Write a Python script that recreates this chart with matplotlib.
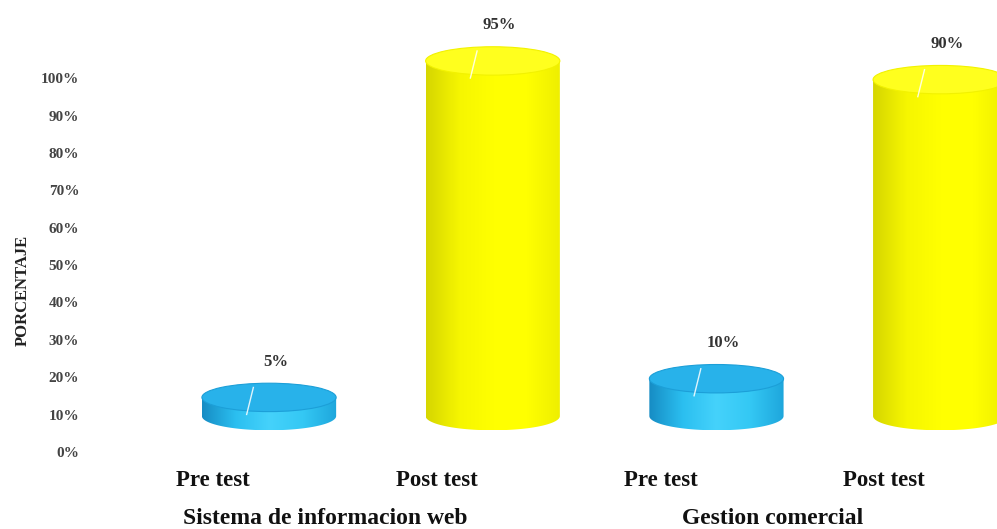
import numpy as np
import matplotlib.pyplot as plt
from matplotlib.patches import Ellipse, Polygon
from matplotlib.colors import LinearSegmentedColormap

# data
groups = ['Sistema de informacion web', 'Gestion comercial']
phases = ['Pre test', 'Post test', 'Pre test', 'Post test']
values = [5, 95, 10, 90]
yticks = list(range(0, 101, 10))

plt.rcParams['font.family'] = ['Liberation Serif', 'DejaVu Serif']
plt.rcParams['font.weight'] = 'bold'

fig = plt.figure(figsize=(9.97, 5.29), dpi=100)
ax = fig.add_axes([0, 0, 1, 1])

floor = 9.6    # 3d floor offset of the cylinders
width = 0.6    # cylinder width in category units
cap = 7.6      # ellipse height in data units

styles = {
    'Pre test': {'body': ['#168cc4', '#2bbff0', '#45d2fb', '#34c8f4', '#1ea6dc'],
                 'top': '#28b2ea', 'edge': '#1c9fd8'},
    'Post test': {'body': ['#d6d600', '#f6f600', '#ffff00', '#ffff00', '#eeee00'],
                  'top': '#ffff1e', 'edge': '#f2f200'},
}

for i, (ph, v) in enumerate(zip(phases, values)):
    st = styles[ph]
    base = floor
    top = floor + v
    left, right = i - width / 2, i + width / 2
    t = np.linspace(np.pi, 2 * np.pi, 60)
    xs = np.concatenate([[left], i + width / 2 * np.cos(t), [right]])
    ys = np.concatenate([[top], base + cap / 2 * np.sin(t), [top]])
    body = Polygon(np.column_stack([xs, ys]), closed=True, facecolor='none',
                   edgecolor='none')
    ax.add_patch(body)
    cmap = LinearSegmentedColormap.from_list(ph, st['body'])
    grad = cmap(np.linspace(0, 1, 256))[np.newaxis, :, :]
    im = ax.imshow(grad, extent=[left, right, base - cap / 2, top],
                   aspect='auto', origin='lower', zorder=2)
    im.set_clip_path(body)
    ax.add_patch(Ellipse((i, top), width, cap, facecolor=st['top'],
                         edgecolor=st['edge'], lw=0.8, zorder=3))
    # small white highlight on the lid
    ax.plot([i - 0.07, i - 0.1], [top + cap * 0.35, top - cap * 0.6],
            color='white', lw=1.0, alpha=0.85, zorder=4)
    ax.text(i + 0.03, top + 9.5, f'{v}%', ha='center', va='center',
            fontsize=12, color='#333333', zorder=5)

# category labels
for i, ph in enumerate(phases):
    ax.text(i - 0.25, -7.5, ph, ha='center', va='center', fontsize=16.5,
            color='#111111')
for g, name in enumerate(groups):
    ax.text(2 * g + 0.5 - 0.25, -17.9, name, ha='center', va='center',
            fontsize=17, color='#111111')

ax.text(-1.1, 43.3, 'PORCENTAJE', rotation=90, ha='center', va='center',
        fontsize=12, color='#222222')

ax.set_yticks(yticks)
ax.set_yticklabels([f'{y}%' for y in yticks])
ax.set_xticks([])
ax.spines['left'].set_position(('data', -0.836))
for s in ax.spines.values():
    s.set_visible(False)
ax.tick_params(axis='y', length=0, pad=2, labelsize=11, labelcolor='#444444')

ax.set_xlim(-1.2025, 3.254)
ax.set_ylim(-20.6, 120.9)

fig.savefig('out.png', dpi=100)
